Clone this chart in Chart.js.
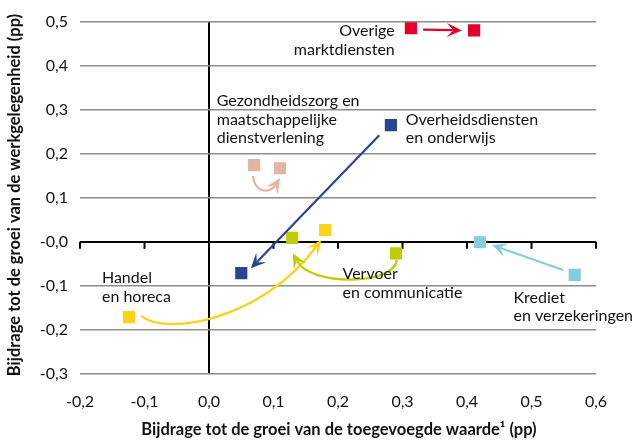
<!DOCTYPE html>
<html>
<head>
<meta charset="utf-8">
<script src="https://cdn.jsdelivr.net/npm/chart.js@4.4.1/dist/chart.umd.min.js"></script>
<style>
  html, body { margin: 0; padding: 0; background: #fff; }
  #wrap { width: 639px; height: 441px; position: relative; }
</style>
</head>
<body>
<div id="wrap"><canvas id="chart"></canvas></div>
<script>
// sectors, in drawing order
const sectors = ['Overige marktdiensten', 'Overheidsdiensten en onderwijs',
  'Gezondheidszorg en maatschappelijke dienstverlening', 'Handel en horeca',
  'Vervoer en communicatie', 'Krediet en verzekeringen'];
const sectorColors = ['#E3002C', '#2A4592', '#E1B5A1', '#FFD21A', '#BECD00', '#85CCDF'];

// first period -> second period
const valueAddedBefore = [0.313, 0.282, 0.070, -0.124, 0.290, 0.567];
const jobsBefore       = [0.485, 0.265, 0.174, -0.171, -0.026, -0.075];
const valueAddedAfter  = [0.411, 0.050, 0.110, 0.180, 0.129, 0.420];
const jobsAfter        = [0.480, -0.071, 0.167, 0.027, 0.009, -0.001];

const xTickLabels = ['-0,2', '-0,1', '0,0', '0,1', '0,2', '0,3', '0,4', '0,5', '0,6'];
const yTickLabels = ['-0,3', '-0,2', '-0,1', '-0,0', '0,1', '0,2', '0,3', '0,4', '0,5'];

const xTitle = 'Bijdrage tot de groei van de toegevoegde waarde\u00b9 (pp)';
const yTitle = 'Bijdrage tot de groei van de werkgelegenheid (pp)';

// label text per sector (lines) and anchor in data units
const sectorLabels = [
  { lines: ['Overige', 'marktdiensten'], x: 0.288, y: 0.478, align: 'right' },
  { lines: ['Overheidsdiensten', 'en onderwijs'], x: 0.305, y: 0.278, align: 'left' },
  { lines: ['Gezondheidszorg en', 'maatschappelijke', 'dienstverlening'], x: 0.012, y: 0.319, align: 'left' },
  { lines: ['Handel', 'en horeca'], x: -0.166, y: -0.082, align: 'left' },
  { lines: ['Vervoer', 'en communicatie'], x: 0.207, y: -0.073, align: 'left' },
  { lines: ['Krediet', 'en verzekeringen'], x: 0.472, y: -0.127, align: 'left' }
];

// arrow paths in data units: 2 points = straight, 4 points = cubic curve
const arrowPaths = [
  [[0.332, 0.482], [0.392, 0.480]],
  [[0.264, 0.242], [0.065, -0.060]],
  [[0.068, 0.150], [0.071, 0.110], [0.095, 0.110], [0.110, 0.145]],
  [[-0.105, -0.168], [-0.068, -0.214], [0.079, -0.180], [0.174, 0.004]],
  [[0.291, -0.041], [0.288, -0.100], [0.157, -0.100], [0.130, -0.026]],
  [[0.549, -0.064], [0.439, -0.007]]
];

const datasets = sectors.map(function (name, i) {
  return {
    label: name,
    data: [
      { x: valueAddedBefore[i], y: jobsBefore[i] },
      { x: valueAddedAfter[i], y: jobsAfter[i] }
    ],
    backgroundColor: sectorColors[i],
    borderColor: sectorColors[i],
    borderWidth: 0,
    pointStyle: 'rect',
    pointRadius: 8.6,
    showLine: false
  };
});

function drawArrowHead(ctx, tipX, tipY, ang, color) {
  const len = 15, half = 7, notch = 8.5;
  ctx.save();
  ctx.translate(tipX, tipY);
  ctx.rotate(ang);
  ctx.beginPath();
  ctx.moveTo(0, 0);
  ctx.lineTo(-len, -half);
  ctx.lineTo(-notch, 0);
  ctx.lineTo(-len, half);
  ctx.closePath();
  ctx.fillStyle = color;
  ctx.fill();
  ctx.restore();
}

const overlayPlugin = {
  id: 'overlay',
  beforeDatasetsDraw: function (chart) {
    const ctx = chart.ctx, xs = chart.scales.x, ys = chart.scales.y;
    const y0 = ys.getPixelForValue(0);
    ctx.save();
    ctx.strokeStyle = '#000';
    ctx.lineWidth = 2;
    xs.ticks.forEach(function (t) {
      const px = xs.getPixelForValue(t.value);
      ctx.beginPath();
      ctx.moveTo(px, y0);
      ctx.lineTo(px, y0 + 7);
      ctx.stroke();
    });
    ctx.restore();
  },
  afterDatasetsDraw: function (chart) {
    const ctx = chart.ctx, xs = chart.scales.x, ys = chart.scales.y;
    ctx.save();
    // arrows
    arrowPaths.forEach(function (path, i) {
      const p = path.map(function (q) { return [xs.getPixelForValue(q[0]), ys.getPixelForValue(q[1])]; });
      const end = p[p.length - 1], prev = p[p.length - 2];
      const ang = Math.atan2(end[1] - prev[1], end[0] - prev[0]);
      const back = 9;
      const ex = end[0] - Math.cos(ang) * back, ey = end[1] - Math.sin(ang) * back;
      ctx.beginPath();
      ctx.moveTo(p[0][0], p[0][1]);
      if (p.length === 4) {
        ctx.bezierCurveTo(p[1][0], p[1][1], p[2][0], p[2][1], ex, ey);
      } else {
        ctx.lineTo(ex, ey);
      }
      ctx.strokeStyle = sectorColors[i];
      ctx.lineWidth = 2.2;
      ctx.stroke();
      drawArrowHead(ctx, end[0], end[1], ang, sectorColors[i]);
    });

    // sector labels
    ctx.font = '16px Lato';
    ctx.fillStyle = '#111';
    ctx.textBaseline = 'middle';
    sectorLabels.forEach(function (lab) {
      const px = xs.getPixelForValue(lab.x), py = ys.getPixelForValue(lab.y);
      ctx.textAlign = lab.align;
      lab.lines.forEach(function (line, k) {
        ctx.fillText(line, px, py + k * 18.5);
      });
    });

    // axis titles
    ctx.font = 'bold 16.5px Lato';
    ctx.textAlign = 'center';
    ctx.fillText(xTitle, 339, 430);
    ctx.translate(15, 195);
    ctx.rotate(-Math.PI / 2);
    ctx.fillText(yTitle, 0, 0);
    ctx.restore();
  }
};

Chart.defaults.font.family = 'Lato';
Chart.defaults.font.size = 16;
Chart.defaults.color = '#111';

new Chart(document.getElementById('chart'), {
  type: 'scatter',
  data: { datasets: datasets },
  options: {
    responsive: true,
    maintainAspectRatio: false,
    animation: false,
    layout: { padding: { top: 21, right: 43, left: 0, bottom: 0 } },
    plugins: { legend: { display: false }, tooltip: { enabled: false } },
    scales: {
      x: {
        type: 'linear',
        min: -0.2,
        max: 0.6,
        ticks: {
          stepSize: 0.1,
          padding: 18,
          maxRotation: 0,
          callback: function (v, i) { return xTickLabels[i]; }
        },
        border: { display: false },
        grid: {
          drawTicks: false,
          color: function (c) { return c.tick && Math.abs(c.tick.value) < 1e-9 ? '#000' : 'rgba(0,0,0,0)'; },
          lineWidth: 2
        },
        afterFit: function (s) { s.height = 67; }
      },
      y: {
        type: 'linear',
        min: -0.3,
        max: 0.5,
        ticks: {
          stepSize: 0.1,
          padding: 12,
          callback: function (v, i) { return yTickLabels[i]; }
        },
        border: { display: false },
        grid: {
          drawTicks: false,
          color: function (c) { return c.tick && Math.abs(c.tick.value) < 1e-9 ? '#000' : '#8c8c8c'; },
          lineWidth: function (c) { return c.tick && Math.abs(c.tick.value) < 1e-9 ? 2 : 1.4; }
        },
        afterFit: function (s) { s.width = 80; }
      }
    }
  },
  plugins: [overlayPlugin]
});
</script>
</body>
</html>
